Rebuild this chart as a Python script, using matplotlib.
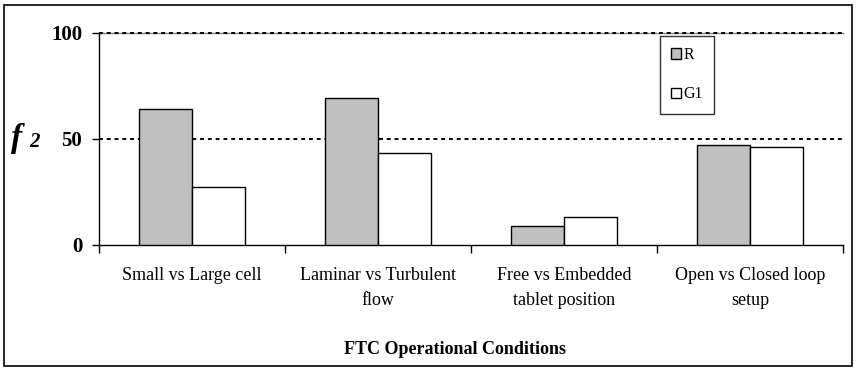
import matplotlib
matplotlib.use("Agg")
import matplotlib.pyplot as plt
from matplotlib.patches import Rectangle
import numpy as np

categories = ["Small vs Large cell", "Laminar vs Turbulent\nflow",
              "Free vs Embedded\ntablet position", "Open vs Closed loop\nsetup"]
series_names = ["R", "G1"]
r_values = [64.2, 69.3, 9.0, 47.2]
g1_values = [27.4, 43.4, 13.2, 46.2]
yticks = [0, 50, 100]

plt.rcParams['font.family'] = ['Liberation Serif', 'DejaVu Serif']

fig = plt.figure(figsize=(8.57, 3.71), dpi=100)
ax = fig.add_axes([99/857, 1-245/371, (843-99)/857, (245-33)/371])

x = np.arange(len(categories))
w = 0.285
ax.bar(x - w/2, r_values, w, color="#c0c0c0", edgecolor="black", linewidth=1.0, label=series_names[0], zorder=3)
ax.bar(x + w/2, g1_values, w, color="white", edgecolor="black", linewidth=1.0, label=series_names[1], zorder=3)

ax.set_xlim(-0.5, len(categories) - 0.5)
ax.set_ylim(0, 100)
ax.axhline(100, color="#808080", linewidth=1.0, zorder=1, clip_on=False)
for yv in [50, 100]:
    ax.axhline(yv, color="black", linestyle=(0, (2, 2)), linewidth=1.4, zorder=2, clip_on=False)

for s in ["top", "right"]:
    ax.spines[s].set_visible(False)
ax.spines["left"].set_linewidth(1.0)
ax.spines["bottom"].set_linewidth(1.0)

ax.set_yticks(yticks)
ax.set_yticklabels([str(v) for v in yticks], fontsize=15, fontweight="bold")
ax.tick_params(axis="y", direction="out", length=5, width=1, pad=7)

ax.set_xticks(x)
ax.set_xticklabels(categories, fontsize=13, linespacing=1.6)
ax.tick_params(axis="x", which="major", length=0, pad=16)
ax.set_xticks(np.arange(len(categories) + 1) - 0.5, minor=True)
ax.tick_params(axis="x", which="minor", direction="out", length=6, width=1)

fig.text(455/857, 1-349/371, "FTC Operational Conditions", ha="center", va="center",
         fontsize=13, fontweight="bold")
fig.text(11/857, 1-147/371, "f", fontsize=24, fontweight="bold", fontstyle="italic",
         ha="left", va="baseline")
fig.text(29/857, 1-147/371, "2", fontsize=15, fontweight="bold", fontstyle="italic",
         ha="left", va="baseline")

leg = ax.legend(loc="upper left", bbox_to_anchor=((660-99)/(843-99), (245-36)/(245-33)),
                frameon=True, fancybox=False, edgecolor="black", fontsize=11.5,
                handlelength=0.6, handleheight=0.6, handletextpad=0.15,
                labelspacing=1.45, borderpad=0.7, borderaxespad=0)
leg.get_frame().set_linewidth(1.0)

fig.patches.append(Rectangle((4/857, 1-366/371), 848/857, 361/371, transform=fig.transFigure,
                             fill=False, edgecolor="black", linewidth=1.2))

fig.savefig("out.png", dpi=100)
